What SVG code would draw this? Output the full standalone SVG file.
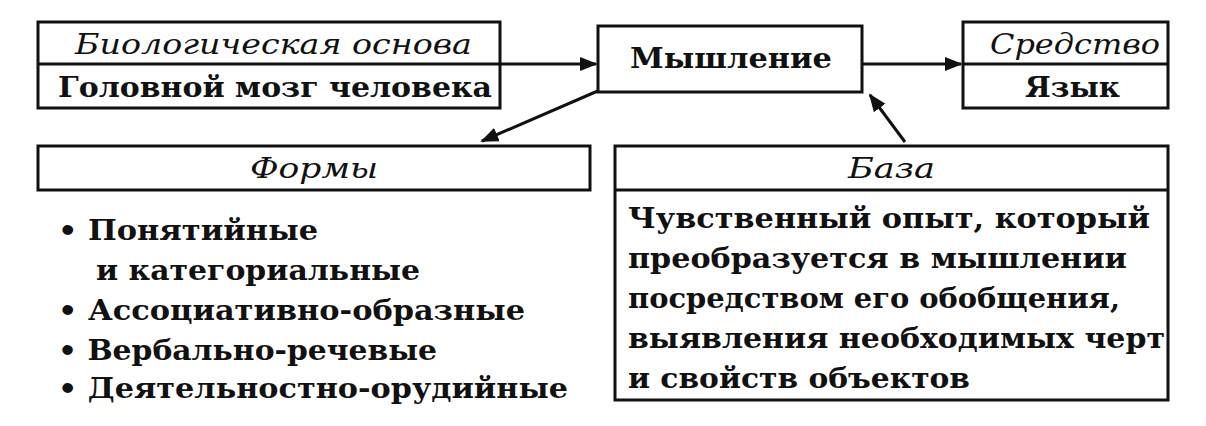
<svg xmlns="http://www.w3.org/2000/svg" width="1206" height="426" viewBox="0 0 1206 426">
<style>
.b{fill:#fff;stroke:#111;stroke-width:3}
.t{font-family:"DejaVu Serif",serif;font-size:28px;font-weight:bold;fill:#111}
.i{font-family:"DejaVu Serif",serif;font-size:28px;font-style:italic;fill:#111}
.c{stroke:#111;stroke-width:3;fill:none}
</style>
<defs><marker id="a" viewBox="0 0 10 10" refX="9" refY="5" markerWidth="6" markerHeight="6" orient="auto"><path d="M0,1 L10,5 L0,9 z" fill="#111"/></marker></defs>
<rect width="1206" height="426" fill="#fff"/>
<g id="connectors">
<line class="c" x1="500" y1="64" x2="596" y2="64" marker-end="url(#a)"/>
<line class="c" x1="862" y1="64" x2="961" y2="64" marker-end="url(#a)"/>
<line class="c" x1="600" y1="90" x2="482" y2="141" marker-end="url(#a)"/>
<line class="c" x1="905" y1="142" x2="870" y2="95" marker-end="url(#a)"/>
</g>
<g id="bio"><rect class="b" x="38" y="22" width="462" height="86"/><line class="c" x1="38" y1="64" x2="500" y2="64"/>
<text class="i" x="75" y="54" textLength="397" lengthAdjust="spacingAndGlyphs">Биологическая основа</text>
<text class="t" x="58" y="97" textLength="434" lengthAdjust="spacingAndGlyphs">Головной мозг человека</text></g>
<g id="think"><rect class="b" x="598" y="26" width="264" height="66"/><text class="t" x="630" y="68" textLength="202" lengthAdjust="spacingAndGlyphs">Мышление</text></g>
<g id="means"><rect class="b" x="963" y="22" width="205" height="86"/><line class="c" x1="963" y1="64" x2="1168" y2="64"/>
<text class="i" x="990" y="54" textLength="170" lengthAdjust="spacingAndGlyphs">Средство</text>
<text class="t" x="1025" y="97" textLength="95" lengthAdjust="spacingAndGlyphs">Язык</text></g>
<g id="forms"><rect class="b" x="38" y="146" width="552" height="44"/><text class="i" x="250" y="178" textLength="128" lengthAdjust="spacingAndGlyphs">Формы</text>
<text class="t" x="58" y="240" textLength="260" lengthAdjust="spacingAndGlyphs">• Понятийные</text>
<text class="t" x="96" y="280" textLength="324" lengthAdjust="spacingAndGlyphs">и категориальные</text>
<text class="t" x="58" y="320" textLength="467" lengthAdjust="spacingAndGlyphs">• Ассоциативно-образные</text>
<text class="t" x="58" y="360" textLength="379" lengthAdjust="spacingAndGlyphs">• Вербально-речевые</text>
<text class="t" x="58" y="398" textLength="510" lengthAdjust="spacingAndGlyphs">• Деятельностно-орудийные</text></g>
<g id="base"><rect class="b" x="615" y="146" width="553" height="254"/><line class="c" x1="615" y1="190" x2="1168" y2="190"/>
<text class="i" x="848" y="178" textLength="87" lengthAdjust="spacingAndGlyphs">База</text>
<text class="t" x="628" y="228" textLength="522" lengthAdjust="spacingAndGlyphs">Чувственный опыт, который</text>
<text class="t" x="628" y="268" textLength="499" lengthAdjust="spacingAndGlyphs">преобразуется в мышлении</text>
<text class="t" x="628" y="308" textLength="492" lengthAdjust="spacingAndGlyphs">посредством его обобщения,</text>
<text class="t" x="628" y="348" textLength="537" lengthAdjust="spacingAndGlyphs">выявления необходимых черт</text>
<text class="t" x="628" y="388" textLength="342" lengthAdjust="spacingAndGlyphs">и свойств объектов</text></g>
</svg>
